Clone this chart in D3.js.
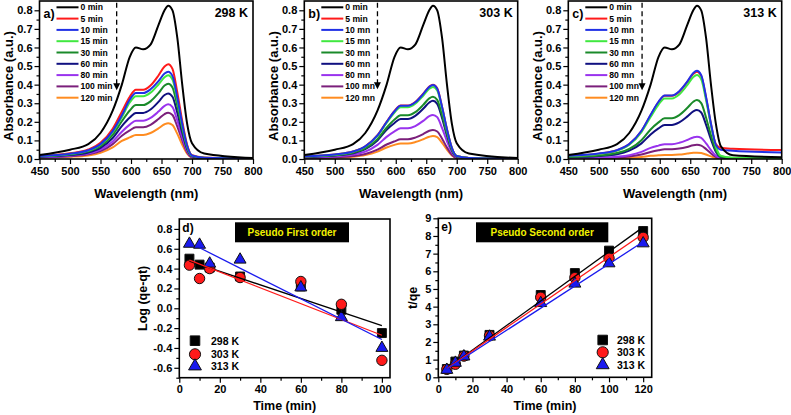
<!DOCTYPE html>
<html><head><meta charset="utf-8">
<script src="https://cdn.jsdelivr.net/npm/d3@7"></script>
<style>
body{margin:0;background:#fff}
text{font-family:"Liberation Sans",Arial,sans-serif;font-weight:bold;fill:#000}
</style>
</head><body>
<svg id="chart" width="791" height="415"></svg>
<script>
// ---------- DATA ----------
const wavelengths = [450, 500, 530, 550, 570, 585, 598, 608, 620, 632, 645, 655, 661, 668, 676, 684, 692, 700, 720, 800];
const labelsA = ["0 min","5 min","10 min","15 min","30 min","60 min","80 min","100 min","120 min"];
const labelsBC = ["0 min","5 min","10 mn","15 mn","30 mn","60 mn","80 mn","100 mn","120 mn"];
const seriesColors = ["#000000","#ff1a1a","#2030e6","#40e840","#1a8a2a","#101080","#9933ee","#7b1f7b","#ff8c20"];

const specA = [
  [0.022,0.050,0.080,0.140,0.260,0.400,0.550,0.600,0.590,0.615,0.720,0.800,0.825,0.800,0.650,0.400,0.190,0.085,0.030,0.005],
  [0.018,0.031,0.051,0.087,0.163,0.255,0.335,0.372,0.372,0.395,0.449,0.498,0.510,0.485,0.357,0.204,0.077,0.020,0.008,0.003],
  [0.016,0.028,0.047,0.080,0.150,0.235,0.320,0.355,0.355,0.375,0.419,0.460,0.470,0.447,0.329,0.188,0.071,0.019,0.007,0.003],
  [0.016,0.027,0.045,0.077,0.144,0.225,0.304,0.338,0.338,0.357,0.401,0.440,0.450,0.428,0.315,0.180,0.068,0.018,0.007,0.003],
  [0.014,0.024,0.041,0.069,0.130,0.203,0.261,0.290,0.290,0.310,0.354,0.395,0.405,0.385,0.284,0.162,0.061,0.016,0.006,0.002],
  [0.012,0.021,0.035,0.060,0.113,0.177,0.223,0.248,0.248,0.266,0.307,0.344,0.353,0.335,0.247,0.141,0.053,0.014,0.005,0.002],
  [0.010,0.018,0.029,0.050,0.094,0.147,0.185,0.206,0.206,0.221,0.255,0.286,0.294,0.279,0.206,0.118,0.044,0.012,0.004,0.002],
  [0.009,0.015,0.025,0.042,0.080,0.125,0.154,0.171,0.171,0.184,0.215,0.242,0.249,0.237,0.174,0.100,0.037,0.010,0.004,0.001],
  [0.008,0.012,0.019,0.033,0.062,0.097,0.116,0.129,0.129,0.140,0.165,0.187,0.193,0.183,0.135,0.077,0.029,0.008,0.003,0.001]
];
const specB = [
  [0.022,0.050,0.080,0.140,0.260,0.400,0.550,0.600,0.590,0.615,0.720,0.800,0.825,0.800,0.650,0.400,0.190,0.085,0.030,0.005],
  [0.014,0.024,0.040,0.068,0.128,0.200,0.259,0.288,0.288,0.307,0.351,0.390,0.400,0.380,0.280,0.160,0.060,0.016,0.006,0.002],
  [0.014,0.024,0.040,0.068,0.127,0.199,0.257,0.286,0.286,0.305,0.349,0.388,0.398,0.378,0.279,0.159,0.060,0.016,0.006,0.002],
  [0.014,0.023,0.039,0.066,0.124,0.194,0.250,0.278,0.278,0.297,0.340,0.378,0.388,0.369,0.272,0.155,0.058,0.016,0.006,0.002],
  [0.012,0.020,0.034,0.057,0.107,0.168,0.212,0.235,0.235,0.252,0.291,0.326,0.335,0.318,0.235,0.134,0.050,0.013,0.005,0.002],
  [0.011,0.019,0.031,0.053,0.100,0.157,0.194,0.215,0.215,0.232,0.270,0.304,0.313,0.297,0.219,0.125,0.047,0.013,0.005,0.002],
  [0.008,0.014,0.024,0.040,0.076,0.119,0.149,0.165,0.165,0.177,0.205,0.231,0.237,0.225,0.166,0.095,0.036,0.009,0.004,0.001],
  [0.006,0.009,0.016,0.027,0.050,0.078,0.095,0.106,0.106,0.115,0.134,0.152,0.156,0.148,0.109,0.062,0.023,0.006,0.002,0.001],
  [0.005,0.007,0.012,0.021,0.040,0.062,0.076,0.084,0.084,0.091,0.106,0.120,0.124,0.118,0.087,0.050,0.019,0.005,0.002,0.001]
];
const specC = [
  [0.022,0.050,0.080,0.140,0.260,0.400,0.550,0.600,0.590,0.615,0.720,0.800,0.825,0.800,0.650,0.400,0.190,0.070,0.020,0.010],
  [0.016,0.028,0.047,0.080,0.150,0.235,0.306,0.340,0.340,0.362,0.413,0.458,0.470,0.447,0.329,0.188,0.080,0.060,0.055,0.048],
  [0.017,0.029,0.048,0.081,0.152,0.238,0.308,0.342,0.342,0.365,0.416,0.463,0.475,0.451,0.333,0.190,0.076,0.050,0.045,0.035],
  [0.016,0.027,0.045,0.077,0.145,0.226,0.293,0.326,0.326,0.347,0.397,0.441,0.452,0.429,0.316,0.181,0.068,0.018,0.007,0.003],
  [0.011,0.019,0.032,0.054,0.101,0.159,0.197,0.219,0.219,0.236,0.274,0.308,0.317,0.301,0.222,0.127,0.048,0.013,0.005,0.002],
  [0.009,0.016,0.026,0.045,0.084,0.132,0.165,0.183,0.183,0.197,0.228,0.256,0.263,0.250,0.184,0.105,0.039,0.011,0.004,0.002],
  [0.004,0.007,0.012,0.020,0.038,0.060,0.072,0.080,0.080,0.087,0.102,0.116,0.120,0.114,0.084,0.048,0.018,0.005,0.002,0.001],
  [0.003,0.005,0.008,0.013,0.024,0.038,0.047,0.052,0.052,0.056,0.065,0.074,0.076,0.072,0.053,0.030,0.011,0.003,0.001,0.001],
  [0.002,0.003,0.004,0.006,0.011,0.017,0.020,0.022,0.022,0.024,0.029,0.033,0.034,0.032,0.024,0.014,0.005,0.002,0.001,0.001]
];
const temps = ["298 K","303 K","313 K"];
const arrowNm = [576.5, 570, 571];
const arrowTip = [0.37, 0.375, 0.37];

const spectraXTicks = [450,500,550,600,650,700,750,800];
const spectraXMinor = [475,525,575,625,675,725,775];
const spectraYTicks = [0,0.1,0.2,0.3,0.4,0.5,0.6,0.7,0.8];
const spectraYMinor = [0.05,0.15,0.25,0.35,0.45,0.55,0.65,0.75];

const kinTemps = ["298 K","303 K","313 K"];
const kinColors = ["#000000","#ff1a1a","#1a1aee"];
const timesD = [5,10,15,30,60,80,100];
const pfo298 = [0.50,0.44,0.41,0.32,0.22,-0.015,-0.25];
const pfo303 = [0.435,0.30,0.40,0.31,0.27,0.04,-0.525];
const pfo313 = [0.65,0.64,0.45,0.49,0.21,-0.09,-0.40];
const pfoFit298 = [[5,0.475],[100,-0.175]];
const pfoFit303 = [[5,0.485],[100,-0.272]];
const pfoFit313 = [[10,0.61],[100,-0.315]];
const dXTicks = [0,20,40,60,80,100];
const dXMinor = [10,30,50,70,90];
const dYTicks = [-0.6,-0.4,-0.2,0,0.2,0.4,0.6,0.8];
const dYMinor = [-0.7,-0.5,-0.3,-0.1,0.1,0.3,0.5,0.7];

const timesE = [5,10,15,30,60,80,100,120];
const pso298 = [0.47,0.89,1.23,2.40,4.66,5.90,7.17,8.28];
const pso303 = [0.45,0.74,1.20,2.35,4.53,5.64,6.74,7.92];
const pso313 = [0.42,0.82,1.18,2.30,4.20,5.30,6.45,7.58];
const psoFit298 = [[5,0.50],[120,8.50]];
const psoFit303 = [[5,0.50],[120,8.13]];
const psoFit313 = [[5,0.47],[120,7.67]];
const eXTicks = [0,20,40,60,80,100,120];
const eXMinor = [10,30,50,70,90,110];
const eYTicks = [0,1,2,3,4,5,6,7,8,9];
const eYMinor = [0.5,1.5,2.5,3.5,4.5,5.5,6.5,7.5,8.5];

// ---------- DRAW ----------
const svg = d3.select("#chart");
const defs = svg.append("defs");

function axes(g, x, y, xt, xm, yt, ym, xfmt, yfmt){
  const [L,R] = x.range(); const [B,T] = y.range();
  const ax = g.append("g").attr("transform",`translate(0,${B})`)
    .call(d3.axisBottom(x).tickValues(xt).tickSize(5).tickPadding(3).tickFormat(xfmt));
  const axm = g.append("g").attr("transform",`translate(0,${B})`)
    .call(d3.axisBottom(x).tickValues(xm).tickSize(3).tickFormat(""));
  const ay = g.append("g").attr("transform",`translate(${L},0)`)
    .call(d3.axisLeft(y).tickValues(yt).tickSize(5).tickPadding(2).tickFormat(yfmt));
  const aym = g.append("g").attr("transform",`translate(${L},0)`)
    .call(d3.axisLeft(y).tickValues(ym).tickSize(3).tickFormat(""));
  [ax,axm,ay,aym].forEach(a=>{a.select(".domain").remove(); a.selectAll("line").attr("stroke","#000").attr("stroke-width",1.2);});
  [ax,ay].forEach(a=>a.selectAll("text").style("font-size","11px").style("font-family","'Liberation Sans',Arial,sans-serif").style("font-weight","bold").attr("fill","#000"));
  g.append("rect").attr("x",L).attr("y",T).attr("width",R-L).attr("height",B-T)
    .attr("fill","none").attr("stroke","#000").attr("stroke-width",1.6);
}

const spectraPanels = [
  {L:39.5, R:253, spec:specA, labels:labelsA, tag:"a)"},
  {L:304.3, R:517.7, spec:specB, labels:labelsBC, tag:"b)"},
  {L:568.3, R:781.7, spec:specC, labels:labelsBC, tag:"c)"}
];
const fmt1 = d => d.toFixed(1);

spectraPanels.forEach((p,pi)=>{
  const T = 1, B = 159;
  const x = d3.scaleLinear().domain([450,800]).range([p.L,p.R]);
  const y = d3.scaleLinear().domain([0,0.85]).range([B,T]);
  const g = svg.append("g");
  const cid = "clip"+pi;
  defs.append("clipPath").attr("id",cid).append("rect").attr("x",p.L).attr("y",T).attr("width",p.R-p.L).attr("height",B-T);
  const line = d3.line().x((d,i)=>x(wavelengths[i])).y(d=>y(d)).curve(d3.curveMonotoneX);
  const cg = g.append("g").attr("clip-path",`url(#${cid})`);
  // draw from lowest to top, black last so it sits on top? draw in order 5..120 then black
  const order = [8,7,6,5,4,1,3,2,0];
  order.forEach(i=>{
    cg.append("path").attr("d",line(p.spec[i])).attr("fill","none")
      .attr("stroke",seriesColors[i]).attr("stroke-width",2).attr("stroke-linejoin","round");
  });
  axes(g,x,y,spectraXTicks,spectraXMinor,spectraYTicks,spectraYMinor,d=>d,fmt1);
  // legend
  p.labels.forEach((lab,i)=>{
    const cy = 7.3 + i*11.3;
    g.append("line").attr("x1",p.L+17).attr("x2",p.L+39).attr("y1",cy).attr("y2",cy)
      .attr("stroke",seriesColors[i]).attr("stroke-width",2);
    g.append("text").attr("x",p.L+41).attr("y",cy+3).style("font-size","8.6px").text(lab);
  });
  g.append("text").attr("x",p.L+4).attr("y",17.5).style("font-size","12.5px").text(p.tag);
  g.append("text").attr("x",p.R-5).attr("y",17).attr("text-anchor","end").style("font-size","12.5px").text(temps[pi]);
  // dashed arrow
  const ax = x(arrowNm[pi]);
  g.append("line").attr("x1",ax).attr("x2",ax).attr("y1",y(0.84)).attr("y2",y(arrowTip[pi])-5)
    .attr("stroke","#000").attr("stroke-width",1.3).attr("stroke-dasharray","5,3.5");
  const ty = y(arrowTip[pi]);
  g.append("path").attr("d",`M${ax-3.5},${ty-7}L${ax+3.5},${ty-7}L${ax},${ty}Z`).attr("fill","#000");
  // axis titles
  g.append("text").attr("transform",`translate(${p.L-31},86) rotate(-90)`).attr("text-anchor","middle")
    .attr("dominant-baseline","central").style("font-size","13px").text("Absorbance (a.u.)");
  g.append("text").attr("x",(p.L+p.R)/2).attr("y",198).attr("text-anchor","middle").style("font-size","13px").text("Wavelength (nm)");
});

// kinetics panels
const symTypes = [d3.symbolSquare, d3.symbolCircle, d3.symbolTriangle];
const symSizes = [80, 85, 62];

function kinPanel(cfg){
  const g = svg.append("g");
  const x = d3.scaleLinear().domain(cfg.xd).range([cfg.L,cfg.R]);
  const y = d3.scaleLinear().domain(cfg.yd).range([cfg.B,cfg.T]);
  const line = d3.line().x(d=>x(d[0])).y(d=>y(d[1]));
  // markers
  cfg.series.forEach((s,si)=>{
    s.forEach((v,i)=>{
      g.append("path").attr("d",d3.symbol(symTypes[si],symSizes[si])())
        .attr("transform",`translate(${x(cfg.times[i])},${y(v)})`)
        .attr("fill",kinColors[si]).attr("stroke","#111").attr("stroke-width",1);
    });
  });
  cfg.fits.forEach((f,si)=>{
    g.append("path").attr("d",line(f)).attr("fill","none").attr("stroke",kinColors[si]).attr("stroke-width",1.3);
  });
  axes(g,x,y,cfg.xt,cfg.xm,cfg.yt,cfg.ym,d=>d,cfg.yfmt);
  g.append("text").attr("x",cfg.L+3).attr("y",cfg.T+13).style("font-size","12px").text(cfg.tag);
  // title box
  g.append("rect").attr("x",cfg.box[0]).attr("y",cfg.box[1]).attr("width",cfg.box[2]).attr("height",cfg.box[3]).attr("fill","#000");
  g.append("text").attr("x",cfg.box[0]+cfg.box[2]/2).attr("y",cfg.box[1]+cfg.box[3]/2+3.6).attr("text-anchor","middle")
    .style("font-size","10px").style("fill","#f2f200").text(cfg.title);
  // legend
  cfg.leg.rows.forEach((ry,si)=>{
    g.append("path").attr("d",d3.symbol(symTypes[si],symSizes[si]*1.15)())
      .attr("transform",`translate(${cfg.leg.mx},${ry})`)
      .attr("fill",kinColors[si]).attr("stroke","#111").attr("stroke-width",1);
    g.append("text").attr("x",cfg.leg.tx).attr("y",ry+4).style("font-size","10.5px").text(kinTemps[si]);
  });
  g.append("text").attr("transform",`translate(${cfg.ylx},${(cfg.T+cfg.B)/2}) rotate(-90)`).attr("text-anchor","middle")
    .attr("dominant-baseline","central").style("font-size","12.5px").text(cfg.ylab);
  g.append("text").attr("x",(cfg.L+cfg.R)/2).attr("y",410).attr("text-anchor","middle").style("font-size","12.5px").text("Time (min)");
}

kinPanel({L:179.3,R:390,T:219,B:377.7,xd:[0,104],yd:[-0.7,0.9],times:timesD,
  series:[pfo298,pfo303,pfo313],fits:[pfoFit298,pfoFit303,pfoFit313],
  xt:dXTicks,xm:dXMinor,yt:dYTicks,ym:dYMinor,yfmt:fmt1,tag:"d)",
  box:[235,222.3,114,20],title:"Pseudo First order",
  leg:{mx:195,tx:211,rows:[340.7,354.3,366.2]},ylx:143,ylab:"Log (qe-qt)"});

kinPanel({L:438.3,R:651.7,T:218.3,B:377.3,xd:[0,125],yd:[0,9],times:timesE,
  series:[pso298,pso303,pso313],fits:[psoFit298,psoFit303,psoFit313],
  xt:eXTicks,xm:eXMinor,yt:eYTicks,ym:eYMinor,yfmt:d=>d,tag:"e)",
  box:[476,222.3,132.3,20],title:"Pseudo Second order",
  leg:{mx:602.7,tx:617,rows:[340,352.3,365]},ylx:413,ylab:"t/qe"});
</script>
</body></html>
